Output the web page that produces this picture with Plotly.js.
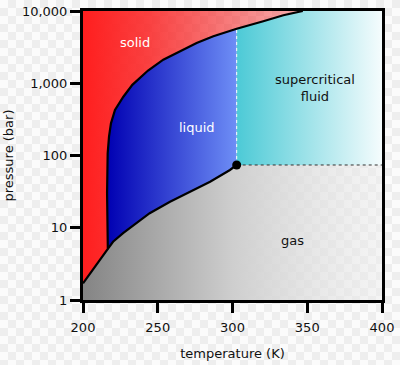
<!DOCTYPE html>
<html>
<head>
<meta charset="utf-8">
<script src="https://cdn.plot.ly/plotly-3.0.1.min.js"></script>
<style>
html,body{margin:0;padding:0;}
body{
  width:400px;height:365px;overflow:hidden;
  background-color:#fbfbfb;
  background-image:
    linear-gradient(45deg,#eeeeee 25%,transparent 25%,transparent 75%,#eeeeee 75%),
    linear-gradient(45deg,#eeeeee 25%,transparent 25%,transparent 75%,#eeeeee 75%);
  background-size:16px 16px;
  background-position:0 0,8px 8px;
}
#chart{width:400px;height:365px;}
</style>
</head>
<body>
<div id="chart"></div>
<script>
// ---- data ----
const subT  = [200, 203.9, 207.8, 212.2, 216.6];
const subP  = [1.70, 2.2, 2.89, 3.85, 5.1];

const meltT = [216.6, 216.1, 216.1, 216.5, 217.4, 218.7, 221.4, 227, 233, 243.5, 253.7, 264.9, 276, 287.2, 302.8, 320.6, 334, 347];
const meltP = [5.1, 30, 63, 107, 182, 279, 426, 651, 950, 1500, 2120, 2770, 3610, 4470, 5690, 7200, 8720, 10000];

const vapT  = [216.6, 220.1, 226.8, 235.7, 244.6, 258.2, 271.6, 285, 298.3, 302.8];
const vapP  = [5.1, 6.4, 8.4, 11.7, 15.9, 22.9, 31.6, 43.4, 63, 73.9];

const critT = 302.8, critP = 73.9;
const tMin = 200, tMax = 400, pMin = 1, pMax = 10000;

const xTicks = [200, 250, 300, 350, 400];
const yTicks = [1, 10, 100, 1000, 10000];
const yTickText = ['1', '10', '100', '1,000', '10,000'];

const regionLabels = ['solid', 'liquid', 'supercritical<br>fluid', 'gas'];
const labelT = [234.8, 276.3, 355.2, 339.8];
const labelP = [3720, 248, 860, 6.56];

// ---- build regions ----
const iC = meltT.indexOf(critT);
const meltAtC = meltP[iC];

const solidX = [tMin].concat(subT, meltT.slice(1));
const solidY = [pMax].concat(subP, meltP.slice(1));

const liqX = meltT.slice(0, iC + 1).concat(vapT.slice().reverse());
const liqY = meltP.slice(0, iC + 1).concat(vapP.slice().reverse());

const scX = [critT].concat(meltT.slice(iC), [tMax, tMax]);
const scY = [critP].concat(meltP.slice(iC), [pMax, critP]);

const gasX = [tMin].concat(subT, vapT.slice(1), [tMax, tMax]);
const gasY = [pMin].concat(subP, vapP.slice(1), [critP, pMin]);

function region(x, y, cs) {
  return {x, y, type:'scatter', mode:'lines', line:{width:0}, fill:'toself',
          fillgradient:{type:'horizontal', colorscale:cs},
          hoverinfo:'skip', showlegend:false};
}

const traces = [
  region(gasX, gasY, [[0,'rgb(132,132,132)'],[0.5,'rgb(206,206,206)'],[1,'rgba(236,236,236,0.45)']]),
  region(solidX, solidY, [[0,'rgb(255,30,30)'],[0.3,'rgba(250,40,40,0.88)'],[1,'rgba(240,50,50,0.38)']]),
  region(liqX, liqY, [[0,'rgb(0,0,178)'],[1,'rgb(110,142,246)']]),
  region(scX, scY, [[0,'rgb(76,202,214)'],[1,'rgb(245,252,253)']]),
  {x:[critT, critT], y:[critP, meltAtC], type:'scatter', mode:'lines',
   line:{color:'#ffffff', width:1, dash:'dot'}, hoverinfo:'skip', showlegend:false},
  {x:[critT, tMax], y:[critP, critP], type:'scatter', mode:'lines',
   line:{color:'#333333', width:1, dash:'dot'}, hoverinfo:'skip', showlegend:false},
  {x:subT.concat(meltT.slice(1)), y:subP.concat(meltP.slice(1)), type:'scatter', mode:'lines',
   line:{color:'#000', width:2.2}, hoverinfo:'skip', showlegend:false},
  {x:vapT, y:vapP, type:'scatter', mode:'lines',
   line:{color:'#000', width:2.2}, hoverinfo:'skip', showlegend:false},
  {x:[critT], y:[critP], type:'scatter', mode:'markers',
   marker:{color:'#000', size:9}, hoverinfo:'skip', showlegend:false}
];

const font = {family:'DejaVu Sans, sans-serif', size:13, color:'#111'};
const annotations = regionLabels.map((t, i) => ({
  x: labelT[i], y: Math.log10(labelP[i]), xref:'x', yref:'y', text:t, showarrow:false,
  font:{family:'DejaVu Sans, sans-serif', size:13, color: i < 2 ? '#ffffff' : '#111111'},
  align:'center'
}));

const axisCommon = {
  ticks:'outside', ticklen:10, tickwidth:3, tickcolor:'#000',
  showline:true, linewidth:3, linecolor:'#000', mirror:true,
  showgrid:false, zeroline:false, tickfont:font, fixedrange:true
};

const layout = {
  width:400, height:365,
  margin:{l:83, r:18, t:11, b:65},
  paper_bgcolor:'rgba(0,0,0,0)', plot_bgcolor:'rgba(0,0,0,0)',
  xaxis: Object.assign({}, axisCommon, {
    range:[tMin, tMax], tickvals:xTicks, ticklabelstandoff:3,
    title:{text:'temperature (K)', font:font, standoff:16}
  }),
  yaxis: Object.assign({}, axisCommon, {
    type:'log', range:[0, 4], tickvals:yTicks, ticktext:yTickText,
    title:{text:'pressure (bar)', font:font, standoff:6}
  }),
  annotations: annotations,
  showlegend:false
};

Plotly.newPlot('chart', traces, layout, {staticPlot:true, displayModeBar:false});
</script>
</body>
</html>
